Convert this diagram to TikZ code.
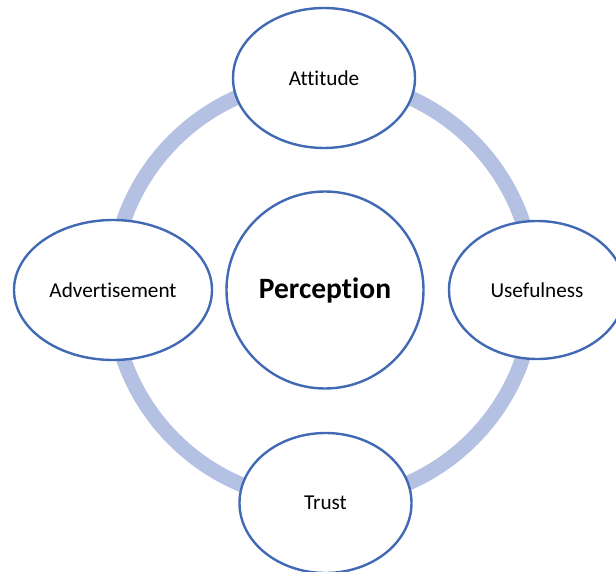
\documentclass[tikz,border=0pt]{standalone}
\usepackage{fontspec}
\setmainfont[Ligatures={NoCommon}]{Carlito}
\usetikzlibrary{shapes.geometric}
\definecolor{ringc}{HTML}{B4C1E2}
\definecolor{edgec}{HTML}{4169B4}
\begin{document}
\begin{tikzpicture}[x=1pt,y=1pt,
  oval/.style={ellipse,draw=edgec,line width=2.4pt,fill=white,inner sep=0pt,font=\fontsize{21.2}{25}\selectfont},
  hub/.style={circle,draw=edgec,line width=2.4pt,fill=white,inner sep=0pt,minimum size=197pt,font=\fontsize{29.5}{34}\selectfont\bfseries}]
\useasboundingbox (0,0) rectangle (616,571);
\draw[ringc,line width=15pt] (323,281) circle (211);
\node[hub] (p) at (325,281) {Perception};
\node[oval,minimum width=182pt,minimum height=140pt] (a) at (324,493) {Attitude};
\node[oval,minimum width=198pt,minimum height=140pt] (ad) at (113,281) {Advertisement};
\node[oval,minimum width=176pt,minimum height=138pt] (u) at (537,281) {Usefulness};
\node[oval,minimum width=172pt,minimum height=140pt] (t) at (325.5,68) {Trust};
\end{tikzpicture}
\end{document}
